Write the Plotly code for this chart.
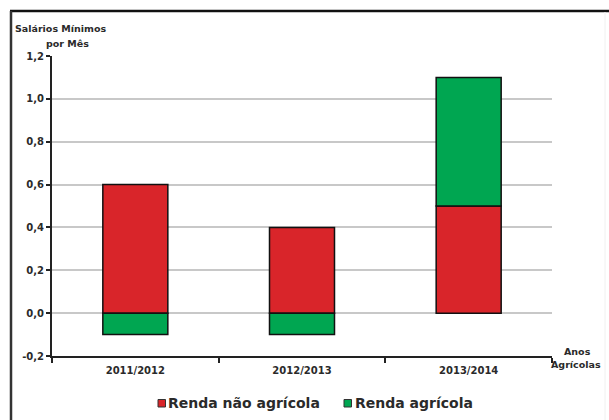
import plotly.graph_objects as go

categories = ["2011/2012", "2012/2013", "2013/2014"]
renda_nao_agricola = [0.6, 0.4, 0.5]
renda_agricola = [-0.1, -0.1, 0.6]
y_ticks = [-0.2, 0.0, 0.2, 0.4, 0.6, 0.8, 1.0, 1.2]
y_tick_labels = ["-0,2", "0,0", "0,2", "0,4", "0,6", "0,8", "1,0", "1,2"]
series_names = ["Renda não agrícola", "Renda agrícola"]

RED = "#d9252a"
GREEN = "#00a651"
FONT = "DejaVu Sans"
TXT = "#2a2a2a"

fig = go.Figure()
fig.add_trace(go.Bar(
    x=categories, y=renda_nao_agricola, name=series_names[0], showlegend=False,
    marker=dict(color=RED, line=dict(color="#111111", width=1.5)), width=0.39,
))
fig.add_trace(go.Bar(
    x=categories, y=renda_agricola, name=series_names[1], showlegend=False,
    marker=dict(color=GREEN, line=dict(color="#111111", width=1.5)), width=0.39,
))

L, T, PW, PH = 52, 56, 500, 300

def px_x(px):
    return (px - L) / PW

def px_y(py):
    return (T + PH - py) / PH

fig.update_layout(
    width=609, height=420,
    margin=dict(l=L, r=609 - L - PW, t=T, b=420 - T - PH, autoexpand=False),
    barmode="relative",
    paper_bgcolor="white", plot_bgcolor="white",
    font=dict(family=FONT, color=TXT),
    showlegend=False,
    xaxis=dict(
        automargin=False,
        showgrid=False, showline=True, linecolor="#222222", linewidth=2,
        ticks="outside", tickson="boundaries", ticklen=5, tickcolor="#222222", tickwidth=1.5,
        tickfont=dict(size=10, family=FONT, color=TXT),
        ticklabelstandoff=4,
        tickprefix="<b>", ticksuffix="</b>",
    ),
    yaxis=dict(
        automargin=False,
        range=[-0.2, 1.2], tickvals=y_ticks,
        ticktext=["<b>" + t + "</b>" for t in y_tick_labels],
        showgrid=True, gridcolor="#c8c8c8", gridwidth=1.5,
        zeroline=True, zerolinecolor="#c8c8c8", zerolinewidth=1.5,
        showline=True, linecolor="#222222", linewidth=2,
        ticks="outside", ticklen=4, tickcolor="#222222", tickwidth=1.5,
        tickfont=dict(size=10, family=FONT, color=TXT),
    ),
)

# outer frame (top and left)
fig.add_shape(type="line", xref="paper", yref="paper",
              x0=px_x(10), x1=px_x(609), y0=px_y(11), y1=px_y(11),
              line=dict(color="#111111", width=2.5))
fig.add_shape(type="line", xref="paper", yref="paper",
              x0=px_x(11), x1=px_x(11), y0=px_y(11), y1=px_y(420),
              line=dict(color="#333333", width=2.5))
fig.add_shape(type="line", xref="paper", yref="paper",
              x0=px_x(605), x1=px_x(605), y0=px_y(12), y1=px_y(420),
              line=dict(color="#f0f0f0", width=1))

fig.add_annotation(xref="paper", yref="paper", x=px_x(13), y=px_y(29),
                   xanchor="left", yanchor="middle", showarrow=False,
                   text="<b>Salários Mínimos</b>", font=dict(size=9.5, family=FONT, color=TXT))
fig.add_annotation(xref="paper", yref="paper", x=px_x(67), y=px_y(44),
                   xanchor="center", yanchor="middle", showarrow=False,
                   text="<b>por Mês</b>", font=dict(size=9.5, family=FONT, color=TXT))
fig.add_annotation(xref="paper", yref="paper", x=px_x(577), y=px_y(351),
                   xanchor="center", yanchor="middle", showarrow=False,
                   text="<b>Anos</b>", font=dict(size=9.5, family=FONT, color=TXT))
fig.add_annotation(xref="paper", yref="paper", x=px_x(576), y=px_y(364),
                   xanchor="center", yanchor="middle", showarrow=False,
                   text="<b>Agrícolas</b>", font=dict(size=9.5, family=FONT, color=TXT))

# legend (manual)
legend_items = [(series_names[0], RED, 158, 166), (series_names[1], GREEN, 344, 353)]
for name, col, sx, tx in legend_items:
    fig.add_shape(type="rect", xref="paper", yref="paper",
                  x0=px_x(sx), x1=px_x(sx + 7.5), y0=px_y(399.5), y1=px_y(407),
                  fillcolor=col, line=dict(color="#333333", width=1))
    fig.add_annotation(xref="paper", yref="paper", x=px_x(tx), y=px_y(403),
                       xanchor="left", yanchor="middle", showarrow=False,
                       text="<b>" + name + "</b>", font=dict(size=14, family=FONT, color=TXT))

fig.write_html("out.html")
